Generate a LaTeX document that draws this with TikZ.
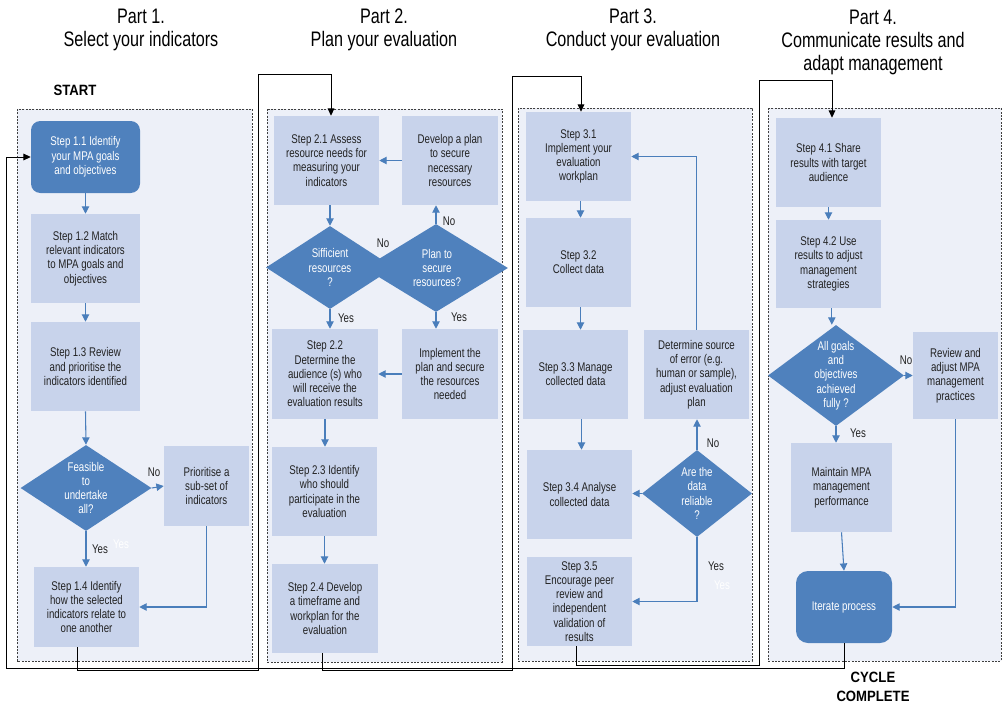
\documentclass[tikz,border=0pt]{standalone}
\usepackage{fontspec}
\setmainfont[FakeStretch=0.77]{Liberation Sans}
\newfontfamily\hbfam[FakeStretch=0.88]{Liberation Sans}
\usetikzlibrary{shapes.geometric, arrows.meta}
\definecolor{dblue}{HTML}{4F81BD}
\definecolor{lbox}{HTML}{C8D3EB}
\definecolor{panelfill}{HTML}{EDF0F8}
\definecolor{ablue}{HTML}{4A7EBB}
\definecolor{txt}{HTML}{222222}
\newcommand\boxfont{\fontsize{9.45}{10.7}\selectfont}
\newcommand\titlefont{\fontsize{15.75}{17.25}\selectfont}
\tikzset{
  sz/.style 2 args={minimum width=#1*0.75pt, minimum height=#2*0.75pt},
  box/.style={fill=lbox, draw=none, align=center, text=txt, font=\boxfont, inner sep=0pt},
  rbox/.style={fill=dblue, draw=none, rounded corners=7pt, align=center, text=white, font=\boxfont, inner sep=0pt},
  dia/.style={diamond, fill=dblue, draw=none, inner sep=0pt},
  dtext/.style={text=white, align=center, font=\boxfont, inner sep=0pt},
  arr/.style={draw=ablue, line width=0.8pt, -{Triangle[length=5.5pt,width=5.5pt]}},
  blkarr/.style={draw=black, line width=0.7pt, -{Triangle[length=5.5pt,width=5pt]}},
  lab/.style={font=\boxfont, text=txt, inner sep=0pt},
  ghost/.style={font=\boxfont, text=white, inner sep=0pt},
  panelbox/.style={fill=panelfill, draw=black!75, dash pattern=on 1.6pt off 0.9pt, line width=0.6pt},
  ttl/.style={font=\titlefont, align=center, text=black, inner sep=0pt},
  hb/.style={font={\hbfam\bfseries\fontsize{11.2}{14}\selectfont}, align=center, inner sep=0pt}
}
\begin{document}
\begin{tikzpicture}[x=0.75pt, y=-0.75pt]
\useasboundingbox (0,0) rectangle (1003,703);
% titles
\node[ttl] (t1) at (141,30) {Part 1.\\Select your indicators};
\node[ttl] (t2) at (384,30) {Part 2.\\Plan your evaluation};
\node[ttl] (t3) at (633,30) {Part 3.\\Conduct your evaluation};
\node[ttl] (t4) at (873,42) {Part 4.\\Communicate results and\\adapt management};
\node[hb] (start) at (75,90) {START};
\node[hb] (cycle) at (873,687) {CYCLE\\COMPLETE};
% panels
\draw[panelbox] (17,109) rectangle (252,661);
\draw[panelbox] (267,109) rectangle (502,662);
\draw[panelbox] (518,108) rectangle (752,661);
\draw[panelbox] (768,108) rectangle (1001,661);
% Part 1
\node[rbox, sz={109}{72}] (s11) at (85.5,157) {Step 1.1 Identify\\your MPA goals\\and objectives};
\node[box, sz={109}{89}] (s12) at (85.5,258.5) {Step 1.2 Match\\relevant indicators\\to MPA goals and\\objectives};
\node[box, sz={109}{89}] (s13) at (85.5,366.5) {Step 1.3 Review\\and prioritise the\\indicators identified};
\node[dia, sz={131}{86}] (d1) at (86,488) {};
\node[dtext] (d1t) at (86,488) {Feasible\\to\\undertake\\all?};
\node[box, sz={85}{80}] (p1) at (206.5,486) {Prioritise a\\sub-set of\\indicators};
\node[box, sz={105}{80}] (s14) at (86.5,607) {Step 1.4 Identify\\how the selected\\indicators relate to\\one another};
% Part 2
\node[box, sz={105}{89}] (s21) at (326.5,160.5) {Step 2.1 Assess\\resource needs for\\measuring your\\indicators};
\node[box, sz={96}{89}] (dev) at (450,160.5) {Develop a plan\\to secure\\necessary\\resources};
\node[dia, sz={144}{88}] (d2b) at (436,268) {};
\node[dia, sz={128}{83}] (d2a) at (330,267.5) {};
\node[dtext] (d2at) at (330,267.5) {Sifficient\\resources\\?};
\node[dtext] (d2bt) at (437,268) {Plan to\\secure\\resources?};
\node[box, sz={106}{90}] (s22) at (325,374) {Step 2.2\\Determine the\\audience (s) who\\will receive the\\evaluation results};
\node[box, sz={96}{90}] (impl) at (450,374) {Implement the\\plan and secure\\the resources\\needed};
\node[box, sz={105}{89}] (s23) at (324.5,491.5) {Step 2.3 Identify\\who should\\participate in the\\evaluation};
\node[box, sz={106}{89}] (s24) at (325,608.5) {Step 2.4 Develop\\a timeframe and\\workplan for the\\evaluation};
% Part 3
\node[box, sz={105}{89}] (s31) at (578.5,156.5) {Step 3.1\\Implement your\\evaluation\\workplan};
\node[box, sz={105}{89}] (s32) at (578.5,262.5) {Step 3.2\\Collect data};
\node[box, sz={105}{89}] (s33) at (575.5,374.5) {Step 3.3 Manage\\collected data};
\node[box, sz={105}{89}] (det) at (696.5,374.5) {Determine source\\of error (e.g.\\human or sample),\\adjust evaluation\\plan};
\node[box, sz={105}{89}] (s34) at (579.5,494.5) {Step 3.4 Analyse\\collected data};
\node[dia, sz={110}{87}] (d3) at (697,493.5) {};
\node[dtext] (d3t) at (697,493.5) {Are the\\data\\reliable\\?};
\node[box, sz={105}{89}] (s35) at (579.5,601.5) {Step 3.5\\Encourage peer\\review and\\independent\\validation of\\results};
% Part 4
\node[box, sz={105}{89}] (s41) at (828.5,162.5) {Step 4.1 Share\\results with target\\audience};
\node[box, sz={105}{88}] (s42) at (828.5,264) {Step 4.2 Use\\results to adjust\\management\\strategies};
\node[dia, sz={136}{101}] (d4) at (836,375.5) {};
\node[dtext] (d4t) at (836,375.5) {All goals\\and\\objectives\\achieved\\fully ?};
\node[box, sz={85}{87}] (rev) at (955.5,375.5) {Review and\\adjust MPA\\management\\practices};
\node[box, sz={101}{89}] (mnt) at (841.5,487.5) {Maintain MPA\\management\\performance};
\node[rbox, sz={96}{72}, rounded corners=9pt] (itr) at (844,607) {Iterate process};
% labels
\node[lab] (l1) at (154,472) {No};
\node[lab] (l2) at (100,549) {Yes};
\node[ghost] (l2g) at (121,544) {Yes};
\node[lab] (l3) at (383,243) {No};
\node[lab] (l4) at (449,221) {No};
\node[lab] (l5) at (346,318) {Yes};
\node[lab] (l6) at (459,317) {Yes};
\node[lab] (l7) at (713,443) {No};
\node[lab] (l8) at (716,566) {Yes};
\node[ghost] (l8g) at (722,585) {Yes};
\node[lab] (l9) at (906,360) {No};
\node[lab] (l10) at (858,433) {Yes};
% blue arrows part 1
\draw[arr] (s11.south) -- (s12.north);
\draw[arr] (s12.south) -- (s13.north);
\draw[arr] (s13.south) -- (d1.north);
\draw[arr] (d1.east) -- (p1.west);
\draw[arr] (d1.south) -- (d1.south |- s14.north);
\draw[arr] (p1.south) |- (s14.east);
% part 2
\draw[arr] (dev.west) -- (dev.west -| s21.east);
\draw[arr] (d2a.north |- s21.south) -- (d2a.north);
\draw[arr] (d2b.north) -- (d2b.north |- dev.south);
\draw[arr] (d2a.south) -- (d2a.south |- s22.north);
\draw[arr] (d2b.south) -- (d2b.south |- impl.north);
\draw[arr] (impl.west) -- (impl.west -| s22.east);
\draw[arr] (s22.south) -- (s22.south |- s23.north);
\draw[arr] (s23.south) -- (s23.south |- s24.north);
% part 3
\draw[arr] ([xshift=1.5pt]s31.south) -- ([xshift=1.5pt]s31.south |- s32.north);
\draw[arr] ([xshift=1.5pt]s32.south) -- ([xshift=1.5pt]s32.south |- s33.north);
\draw[arr] ([xshift=4.5pt]s33.south) -- ([xshift=4.5pt]s33.south |- s34.north);
\draw[arr] (det.north) |- (s31.east);
\draw[arr] (d3.north) -- (d3.north |- det.south);
\draw[arr] (d3.west) -- (d3.west -| s34.east);
\draw[arr] (d3.south) |- (s35.east);
% part 4
\draw[arr] (s41.south) -- (s41.south |- s42.north);
\draw[arr] ([xshift=2.5pt]s42.south) -- ([xshift=2.5pt]s42.south |- d4.north);
\draw[arr] (d4.east) -- (d4.east -| rev.west);
\draw[arr] (d4.south) -- (d4.south |- mnt.north);
\draw[arr] (mnt.south) -- (itr.north);
\draw[arr] (rev.south) |- (itr.east);
% black loops
\coordinate (c41a) at (6,668);
\draw[blkarr] (itr.south) |- (c41a) |- (s11.west);
\coordinate (c12a) at (258,670);
\coordinate (c12b) at (331,74);
\draw[blkarr] ([xshift=-7pt]s14.south) |- (c12a) |- (c12b) -- (c12b |- s21.north);
\coordinate (c23a) at (512,670);
\coordinate (c23b) at (581,76);
\draw[blkarr] ([xshift=-2.2pt]s24.south) |- (c23a) |- (c23b) -- (c23b |- s31.north);
\coordinate (c34a) at (759,665);
\coordinate (c34b) at (832,80);
\draw[blkarr] ([xshift=-2pt]s35.south) |- (c34a) |- (c34b) -- (c34b |- s41.north);
\end{tikzpicture}
\end{document}
